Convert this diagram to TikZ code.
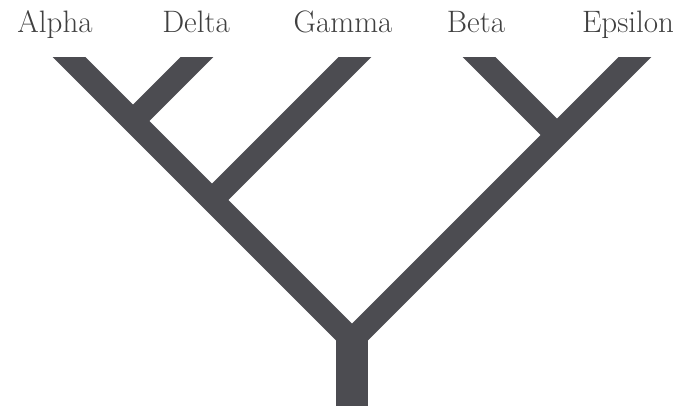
\documentclass[tikz,border=0pt]{standalone}
\usepackage{fontspec}
\usepackage{tikz}
\usetikzlibrary{positioning}
\definecolor{treegray}{RGB}{76,76,81}

\begin{document}
\begin{tikzpicture}[x=1pt, y=-1pt,
    branch/.style={draw=treegray, line width=23pt, line join=miter},
    trunk/.style={draw=treegray, line width=32pt},
    taxon/.style={anchor=base, font=\fontsize{31}{36}\selectfont, text=black!75}]
        \useasboundingbox (0,0) rectangle (685,406);

        % --- Noms des taxons ---
        \node[taxon] (alpha)   at (55,33)  {Alpha};
        \node[taxon] (delta)   at (196,33) {Delta};
        \node[taxon] (gamma)   at (343,33) {Gamma};
        \node[taxon] (beta)    at (476,33) {Beta};
        \node[taxon] (epsilon) at (628,33) {Epsilon};

        % --- Extremites et noeuds de l'arbre ---
        \coordinate (tipA) at (70,58);
        \coordinate (tipD) at (196,58);
        \coordinate (tipG) at (354,58);
        \coordinate (tipB) at (480,58);
        \coordinate (tipE) at (634,58);
        \coordinate (jAD)  at (133,121);
        \coordinate (jAG)  at (212,200);
        \coordinate (jBE)  at (557,135);
        \coordinate (root) at (352,340);
        \coordinate (base) at (352,420);

        % --- Branches (coupees a l'horizontale en haut) ---
        \begin{scope}
            \clip (0,58) rectangle (685,406);
            \draw[trunk] (root) -- (base);
            \draw[branch, shorten <=-20pt, shorten >=-20pt]
                (tipA) -- (root) -- (tipE);
            \draw[branch, shorten <=-20pt] (tipD) -- (jAD);
            \draw[branch, shorten <=-20pt] (tipG) -- (jAG);
            \draw[branch, shorten <=-20pt] (tipB) -- (jBE);
        \end{scope}
    \end{tikzpicture}
\end{document}
